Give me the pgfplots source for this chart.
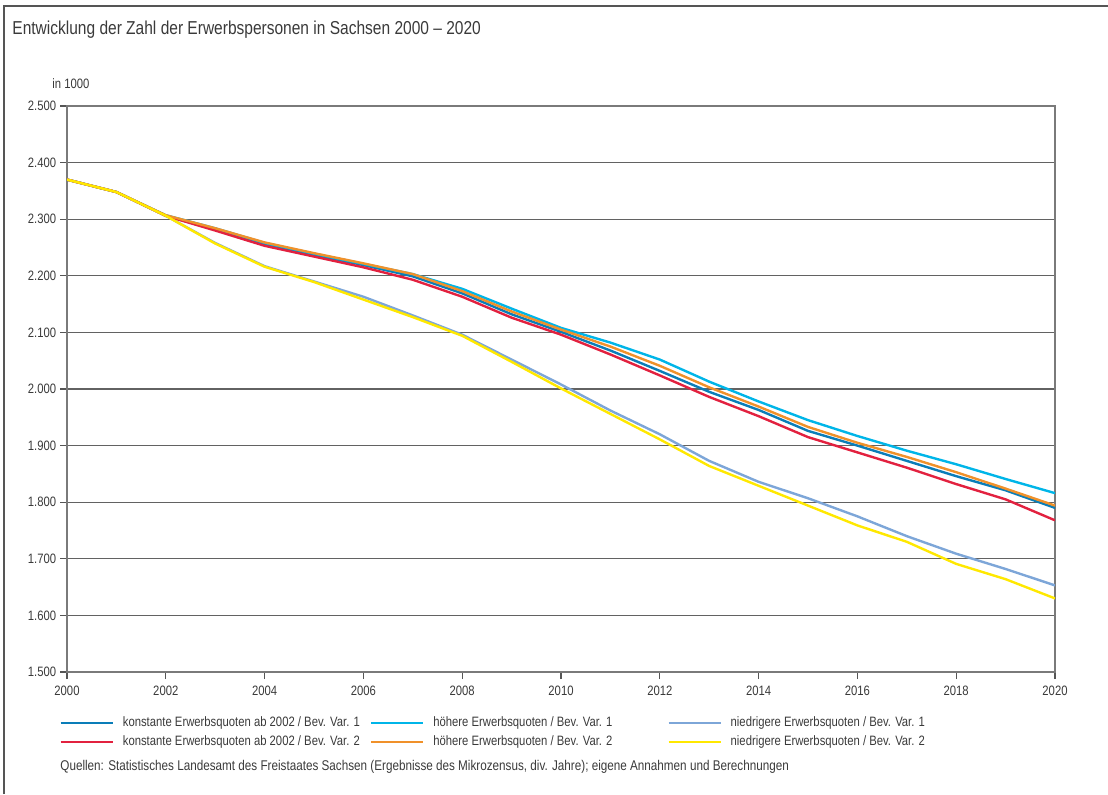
\documentclass[border=0pt]{standalone}
\usepackage{fontspec}
\setmainfont{Liberation Sans}[FakeStretch=0.83]
\usepackage{pgfplots}
\pgfplotsset{compat=1.18}
\definecolor{txtgray}{HTML}{3A3A3A}
\definecolor{framegray}{HTML}{555555}
\definecolor{axgray}{HTML}{7A7A7A}
\definecolor{cBlue}{HTML}{0A7DB8}
\definecolor{cRed}{HTML}{E2213F}
\definecolor{cCyan}{HTML}{00B5E8}
\definecolor{cOrange}{HTML}{F0912A}
\definecolor{cLBlue}{HTML}{7DA6D8}
\definecolor{cYellow}{HTML}{FFE800}
\pgfplotstableread{
year blue red cyan orange lblue yellow
2000 2370 2370 2370 2370 2370 2370
2001 2348 2348 2348 2348 2348 2348
2002 2306 2306 2307 2307 2306 2306
2003 2282 2280 2284 2284 2258 2257
2004 2256 2253 2258 2259 2217 2216
2005 2237 2234 2239 2240 2190 2189
2006 2219 2215 2221 2222 2163 2158
2007 2199 2193 2203 2203 2130 2127
2008 2169 2163 2177 2173 2096 2094
2009 2132 2126 2142 2137 2052 2048
2010 2101 2096 2108 2105 2008 2001
2011 2068 2061 2082 2075 1962 1956
2012 2032 2024 2052 2041 1920 1911
2013 1995 1986 2013 2003 1873 1864
2014 1963 1952 1978 1969 1836 1829
2015 1926 1915 1945 1933 1807 1794
2016 1900 1888 1917 1905 1775 1759
2017 1873 1861 1891 1880 1740 1730
2018 1846 1832 1867 1853 1709 1691
2019 1821 1805 1841 1824 1682 1664
2020 1790 1768 1816 1794 1653 1630
}\datatable
\newcommand{\lbl}{\fontsize{6.8}{8}\selectfont}
\begin{document}
\begin{tikzpicture}
\useasboundingbox (0,0) rectangle (554pt,397pt);
\draw[framegray, line width=0.9pt] (2pt,0pt) -- (2pt,394pt) -- (554pt,394pt);
\node[anchor=west, inner sep=0pt, text=txtgray, font=\fontsize{9.35}{11}\selectfont] at (6pt,382pt) {Entwicklung der Zahl der Erwerbspersonen in Sachsen 2000 -- 2020};
\node[anchor=west, inner sep=0pt, text=txtgray, font=\lbl] at (26pt,355pt) {in 1000};
\begin{axis}[
  at={(33.5pt,61pt)}, anchor=south west,
  scale only axis, width=494pt, height=283pt,
  xmin=2000, xmax=2020, ymin=1500, ymax=2500,
  xtick={2000,2002,...,2020}, ytick={1500,1600,...,2500},
  axis line style={axgray, line width=1pt},
  ymajorgrids, grid style={axgray!80!black, line width=0.6pt},
  tick align=outside, major tick length=3.5pt,
  xtick pos=bottom, ytick pos=left,
  tick style={axgray!70!black, line width=0.6pt},
  ticklabel style={font=\lbl, text=txtgray},
  /pgf/number format/assume math mode=true,
  yticklabel style={xshift=1.6pt, /pgf/number format/.cd, fixed, precision=0, 1000 sep={.}},
  xticklabel style={/pgf/number format/.cd, 1000 sep={}},
  legend columns=3,
  legend cell align=left,
  legend image code/.code={\draw[#1, line width=1.2pt] (0pt,0pt) -- (26pt,0pt);},
  legend style={at={(axis description cs:-0.008,-0.078)}, anchor=north west,
    draw=none, fill=none, inner sep=0pt, font=\lbl, text=txtgray,
    nodes={inner sep=0pt, text height=5pt, text depth=1.5pt},
    row sep=3pt,
    /tikz/every odd column/.append style={column sep=4.5pt},
    /tikz/every even column/.append style={column sep=0pt}},
  every axis plot/.append style={line width=1.2pt},
]
\addplot[cBlue] table[x=year,y=blue]{\datatable};
\addlegendentry{\makebox[123.5pt][l]{konstante Erwerbsquoten ab 2002 / Bev. Var. 1}}
\addplot[cCyan] table[x=year,y=cyan]{\datatable};
\addlegendentry{\makebox[117pt][l]{höhere Erwerbsquoten / Bev. Var. 1}}
\addplot[cLBlue] table[x=year,y=lblue]{\datatable};
\addlegendentry{niedrigere Erwerbsquoten / Bev. Var. 1}
\addplot[cRed] table[x=year,y=red]{\datatable};
\addlegendentry{\makebox[123.5pt][l]{konstante Erwerbsquoten ab 2002 / Bev. Var. 2}}
\addplot[cOrange] table[x=year,y=orange]{\datatable};
\addlegendentry{\makebox[117pt][l]{höhere Erwerbsquoten / Bev. Var. 2}}
\addplot[cYellow] table[x=year,y=yellow]{\datatable};
\addlegendentry{niedrigere Erwerbsquoten / Bev. Var. 2}
\end{axis}
\node[anchor=west, inner sep=0pt, text=txtgray, font=\fontsize{7.05}{8}\selectfont] at (30pt,13.5pt) {Quellen: Statistisches Landesamt des Freistaates Sachsen (Ergebnisse des Mikrozensus, div. Jahre); eigene Annahmen und Berechnungen};
\end{tikzpicture}
\end{document}
